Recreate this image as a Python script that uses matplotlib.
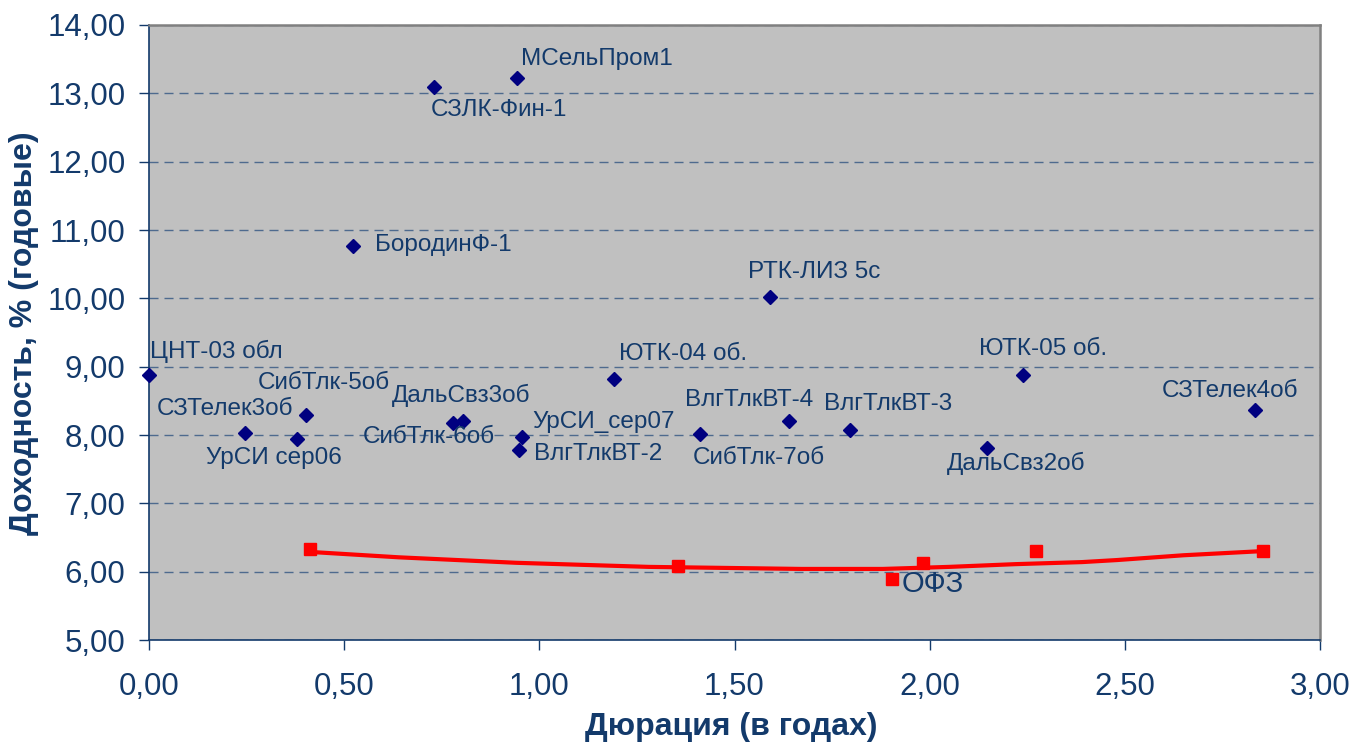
import matplotlib
matplotlib.use("Agg")
import matplotlib.pyplot as plt
from matplotlib.ticker import FuncFormatter, MultipleLocator

plt.rcParams['font.family'] = ['Liberation Sans', 'DejaVu Sans']

# corporate bonds: duration (years) and yield (% p.a.)
bond_names = ['ЦНТ-03 обл', 'СЗТелек3об', 'УрСИ сер06', 'СибТлк-5об', 'СибТлк-6об',
              'ДальСвз3об', 'УрСИ_сер07', 'ВлгТлкВТ-2', 'ЮТК-04 об.', 'СибТлк-7об',
              'ВлгТлкВТ-4', 'ВлгТлкВТ-3', 'ДальСвз2об', 'ЮТК-05 об.', 'СЗТелек4об',
              'РТК-ЛИЗ 5с', 'БородинФ-1', 'СЗЛК-Фин-1', 'МСельПром1']
bond_dur = [0.00, 0.246, 0.379, 0.402, 0.779, 0.804, 0.956, 0.948, 1.191, 1.412,
            1.640, 1.796, 2.147, 2.239, 2.834, 1.591, 0.523, 0.730, 0.943]
bond_yield = [8.88, 8.03, 7.94, 8.29, 8.18, 8.21, 7.97, 7.78, 8.82, 8.01,
              8.21, 8.07, 7.81, 8.88, 8.37, 10.02, 10.77, 13.09, 13.22]

# government bonds (ОФЗ)
ofz_dur = [0.413, 1.355, 1.904, 1.983, 2.273, 2.854]
ofz_yield = [6.33, 6.08, 5.89, 6.13, 6.30, 6.30]

# ОФЗ trend line
trend_dur = [0.41, 0.64, 0.94, 1.28, 1.67, 1.88, 2.05, 2.22, 2.39, 2.48, 2.65, 2.85]
trend_yield = [6.29, 6.21, 6.13, 6.07, 6.04, 6.04, 6.07, 6.11, 6.14, 6.17, 6.24, 6.30]

# label offsets in pixels (dx, dy) from each point
label_offsets = [(1, 23), (-88, 24), (-91, -19), (-48, 32), (-90, -14),
                 (-71, 25), (10, 15), (15, -4), (5, 25), (-7, -24),
                 (-104, 21), (-26, 26), (-40, -15), (-44, 26), (-93, 19),
                 (-22, 25), (22, 1), (-3, -23), (4, 19)]

navy = '#133A6B'

fig = plt.figure(figsize=(13.52, 7.45), dpi=100)
ax = fig.add_axes([149 / 1352, 1 - 640 / 745, 1171 / 1352, 615 / 745])
ax.set_facecolor('#C0C0C0')

ax.set_xlim(0, 3)
ax.set_ylim(5, 14)
ax.xaxis.set_major_locator(MultipleLocator(0.5))
ax.yaxis.set_major_locator(MultipleLocator(1))
comma = FuncFormatter(lambda v, p: f'{v:.2f}'.replace('.', ','))
ax.xaxis.set_major_formatter(comma)
ax.yaxis.set_major_formatter(comma)

ax.grid(axis='y', color='#4E6A8E', linewidth=1.0, linestyle=(0, (6.5, 4.3)))
ax.set_axisbelow(True)

ax.tick_params(axis='both', direction='out', length=7, width=1, color=navy,
               labelsize=22.5, labelcolor=navy)
ax.tick_params(axis='x', pad=16)
ax.tick_params(axis='y', pad=10)

for side in ('top', 'right'):
    ax.spines[side].set_color('#808080')
    ax.spines[side].set_linewidth(1.8)
for side in ('left', 'bottom'):
    ax.spines[side].set_color(navy)
    ax.spines[side].set_linewidth(1.2)

ax.plot(trend_dur, trend_yield, color='#FF0000', linewidth=3, zorder=3)
ax.plot(ofz_dur, ofz_yield, linestyle='none', marker='s', markersize=9,
        color='#FF0000', zorder=4, clip_on=False)
ax.plot(bond_dur, bond_yield, linestyle='none', marker='D', markersize=7.5,
        color='#000080', zorder=5, clip_on=False)

for name, d, y, (dx, dy) in zip(bond_names, bond_dur, bond_yield, label_offsets):
    ax.annotate(name, (d, y), xytext=(dx, dy), textcoords='offset pixels',
                ha='left', va='center', fontsize=17.5, color=navy, zorder=6)

ax.annotate('ОФЗ', (ofz_dur[2], ofz_yield[2]), xytext=(9, -5),
            textcoords='offset pixels', ha='left', va='center',
            fontsize=21, color=navy, zorder=6)

fig.text(731 / 1352, 1 - 727 / 745, 'Дюрация (в годах)', ha='center', va='center',
         fontsize=23, fontweight='bold', color=navy)
fig.text(24 / 1352, 1 - 333 / 745, 'Доходность, % (годовые)', ha='center',
         va='center', rotation=90, fontsize=23, fontweight='bold', color=navy)

fig.savefig('out.png', dpi=100)
